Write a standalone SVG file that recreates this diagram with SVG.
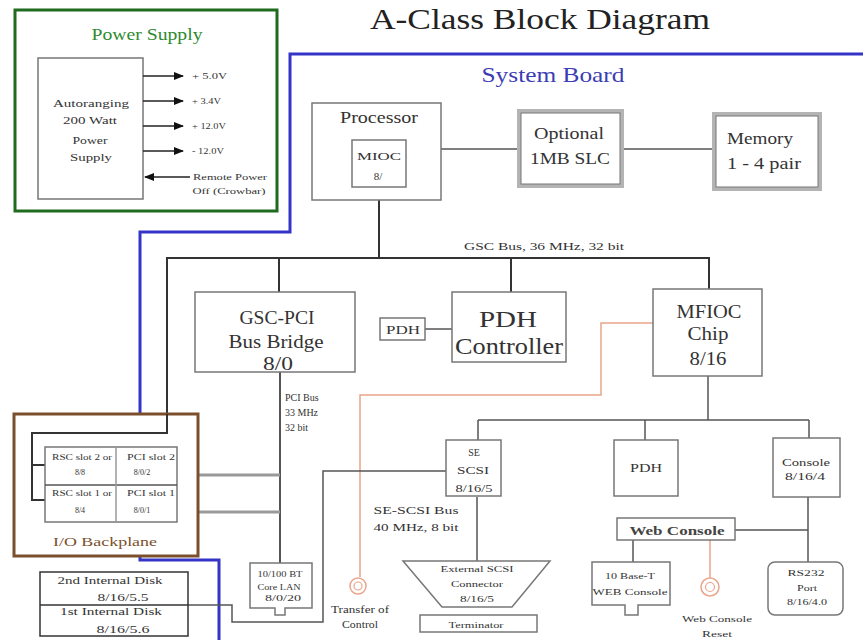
<svg xmlns="http://www.w3.org/2000/svg" width="863" height="640" viewBox="0 0 863 640" font-family="'Liberation Serif', 'DejaVu Serif', serif">
<defs>
<marker id="ah" viewBox="0 0 10 10" refX="9" refY="5" markerWidth="7" markerHeight="7" orient="auto"><path d="M0,1 L10,5 L0,9 z" fill="#111"/></marker>
</defs>
<style>
text{font-family:'Liberation Serif','DejaVu Serif',serif;fill:#333;text-anchor:middle}
.box{fill:#fff;stroke:#777;stroke-width:1.5}
.sh{fill:#fff;stroke:#b4b4b4;stroke-width:4}
.shi{fill:none;stroke:#777;stroke-width:1}
.bus{fill:none;stroke:#333;stroke-width:2}
.ln{fill:none;stroke:#555;stroke-width:1.5}
.gr{fill:none;stroke:#999;stroke-width:3}
.or{fill:none;stroke:#e9a58a;stroke-width:1.5}
.st{text-anchor:start}
.s8{font-size:8px}.s9{font-size:9px}.s10{font-size:10px}.s11{font-size:11px}.s13{font-size:13px}.s15{font-size:17px}.s17{font-size:18px}.s22{font-size:24px}
</style>
<rect width="863" height="640" fill="#fff"/>
<text x="540" y="29" style="font-size:30px;fill:#222" textLength="340" lengthAdjust="spacingAndGlyphs">A-Class Block Diagram</text>

<path d="M863,54 L290,54 L290,232 L140,232 L140,560 L219,560 L219,640" fill="none" stroke="#3434c8" stroke-width="3"/>
<text x="553" y="82" style="font-size:22px;fill:#3c3cb4" textLength="143" lengthAdjust="spacingAndGlyphs">System Board</text>

<g id="power-supply">
<rect x="15" y="10" width="262" height="201" fill="#fff" stroke="#1f6b1f" stroke-width="3"/>
<text x="147" y="40" class="s15" style="fill:#2e8b2e" textLength="111" lengthAdjust="spacingAndGlyphs">Power Supply</text>
<rect x="38" y="58" width="105" height="141" class="box"/>
<text x="91" y="107" class="s11" textLength="76" lengthAdjust="spacingAndGlyphs">Autoranging</text>
<text x="90" y="124" class="s11" textLength="54" lengthAdjust="spacingAndGlyphs">200 Watt</text>
<text x="90" y="144" class="s11" textLength="35" lengthAdjust="spacingAndGlyphs">Power</text>
<text x="91" y="161" class="s11" textLength="42" lengthAdjust="spacingAndGlyphs">Supply</text>
<g class="ln" style="stroke:#222" marker-end="url(#ah)">
<line x1="143" y1="76" x2="183" y2="76"/>
<line x1="143" y1="101" x2="183" y2="101"/>
<line x1="143" y1="126" x2="183" y2="126"/>
<line x1="143" y1="151" x2="183" y2="151"/>
<line x1="190" y1="177" x2="145" y2="177"/>
</g>
<text x="192" y="79" class="s9 st" textLength="35" lengthAdjust="spacingAndGlyphs">+ 5.0V</text>
<text x="192" y="104" class="s9 st" textLength="29" lengthAdjust="spacingAndGlyphs">+ 3.4V</text>
<text x="192" y="129" class="s9 st" textLength="34" lengthAdjust="spacingAndGlyphs">+ 12.0V</text>
<text x="192" y="154" class="s9 st" textLength="32" lengthAdjust="spacingAndGlyphs">- 12.0V</text>
<text x="230" y="180" class="s9" textLength="74" lengthAdjust="spacingAndGlyphs">Remote Power</text>
<text x="229" y="194" class="s9" textLength="73" lengthAdjust="spacingAndGlyphs">Off (Crowbar)</text>
</g>

<g id="connectors">
<line x1="441" y1="149" x2="517" y2="149" class="ln"/>
<line x1="621" y1="149" x2="712" y2="149" class="ln"/>
<line x1="379" y1="200" x2="379" y2="258" class="bus"/>
<line x1="166" y1="258" x2="710" y2="258" class="bus"/>
<line x1="279" y1="258" x2="279" y2="292" class="bus"/>
<line x1="511" y1="258" x2="511" y2="292" class="bus"/>
<line x1="709" y1="258" x2="709" y2="290" class="bus"/>
<line x1="167" y1="258" x2="167" y2="414" class="bus"/>
<line x1="425" y1="329" x2="452" y2="329" class="ln"/>
<line x1="280" y1="372" x2="280" y2="563" class="bus" style="stroke:#555"/>
<line x1="177" y1="475" x2="280" y2="475" class="gr"/>
<line x1="177" y1="512" x2="280" y2="512" class="gr"/>
<path d="M653,323 L601,323 L601,395 L360,395 L360,577" class="or"/>
<line x1="708" y1="376" x2="708" y2="420" class="ln"/>
<line x1="478" y1="420" x2="809" y2="420" class="ln"/>
<line x1="478" y1="420" x2="478" y2="440" class="ln"/>
<line x1="645" y1="420" x2="645" y2="440" class="ln"/>
<line x1="809" y1="420" x2="809" y2="438" class="ln"/>
<path d="M446,471 L323,471 L323,622 L232,622 L232,605 L188,605" class="ln"/>
<line x1="477" y1="497" x2="477" y2="561" class="ln"/>
<line x1="808" y1="497" x2="808" y2="562" class="ln"/>
<line x1="735" y1="530" x2="808" y2="530" class="ln"/>
<line x1="633" y1="540" x2="633" y2="562" class="ln"/>
<line x1="710" y1="540" x2="710" y2="578" class="or"/>
</g>

<g id="processor">
<rect x="312" y="103" width="129" height="97" class="box"/>
<text x="379" y="123" class="s15" textLength="78" lengthAdjust="spacingAndGlyphs">Processor</text>
</g>
<g id="mioc">
<rect x="352" y="140" width="54" height="47" class="box"/>
<text x="379" y="160" class="s11" textLength="44" lengthAdjust="spacingAndGlyphs">MIOC</text>
<text x="378" y="180" class="s11">8/</text>
</g>
<g id="slc">
<rect x="519" y="111" width="103" height="75" class="sh"/>
<rect x="521" y="113" width="99" height="71" class="shi"/>
<text x="569" y="139" class="s15" textLength="70" lengthAdjust="spacingAndGlyphs">Optional</text>
<text x="570" y="164" class="s15" textLength="80" lengthAdjust="spacingAndGlyphs">1MB SLC</text>
</g>
<g id="memory">
<rect x="714" y="114" width="106" height="75" class="sh"/>
<rect x="716" y="116" width="102" height="71" class="shi"/>
<text x="727" y="144" class="s15 st" textLength="66" lengthAdjust="spacingAndGlyphs">Memory</text>
<text x="727" y="169" class="s15 st" textLength="74" lengthAdjust="spacingAndGlyphs">1 - 4 pair</text>
</g>
<text x="544" y="250" class="s10" textLength="160" lengthAdjust="spacingAndGlyphs">GSC Bus, 36 MHz, 32 bit</text>

<g id="gsc-pci">
<rect x="195" y="292" width="160" height="80" class="box"/>
<text x="277" y="324" class="s17" textLength="75" lengthAdjust="spacingAndGlyphs">GSC-PCI</text>
<text x="276" y="348" class="s17" textLength="95" lengthAdjust="spacingAndGlyphs">Bus Bridge</text>
<text x="278" y="370" class="s17" textLength="30" lengthAdjust="spacingAndGlyphs">8/0</text>
</g>
<g id="pdh-small">
<rect x="380" y="318" width="45" height="22" class="box"/>
<text x="403" y="334" class="s13" textLength="34" lengthAdjust="spacingAndGlyphs">PDH</text>
</g>
<g id="pdh-controller">
<rect x="452" y="292" width="114" height="70" class="box"/>
<text x="508" y="327" class="s22" textLength="58" lengthAdjust="spacingAndGlyphs">PDH</text>
<text x="509" y="354" class="s22" textLength="108" lengthAdjust="spacingAndGlyphs">Controller</text>
</g>
<g id="mfioc">
<rect x="653" y="289" width="109" height="87" class="box"/>
<text x="709" y="318" class="s17" textLength="65" lengthAdjust="spacingAndGlyphs">MFIOC</text>
<text x="708" y="340" class="s17" textLength="41" lengthAdjust="spacingAndGlyphs">Chip</text>
<text x="708" y="365" class="s17" textLength="37" lengthAdjust="spacingAndGlyphs">8/16</text>
</g>
<text x="285" y="401" class="s10 st">PCI Bus</text>
<text x="285" y="416" class="s10 st">33 MHz</text>
<text x="285" y="431" class="s10 st">32 bit</text>

<g id="io-backplane">
<rect x="14" y="414" width="184" height="142" fill="#fff" stroke="#7b4f2c" stroke-width="3"/>
<path d="M167,414 L167,433 L32,433 L32,500 L45,500 M32,465 L45,465" class="bus"/>
<rect x="45" y="447" width="132" height="75" class="box"/>
<line x1="45" y1="485" x2="177" y2="485" class="ln"/>
<line x1="116" y1="447" x2="116" y2="522" class="ln" style="stroke:#999"/>
<text x="82" y="460" class="s8" textLength="60" lengthAdjust="spacingAndGlyphs">RSC slot 2  or</text>
<text x="80" y="475" class="s8">8/8</text>
<text x="151" y="460" class="s8" textLength="48" lengthAdjust="spacingAndGlyphs">PCI slot 2</text>
<text x="142" y="475" class="s8">8/0/2</text>
<text x="82" y="496" class="s8" textLength="60" lengthAdjust="spacingAndGlyphs">RSC slot 1  or</text>
<text x="80" y="513" class="s8">8/4</text>
<text x="151" y="496" class="s8" textLength="48" lengthAdjust="spacingAndGlyphs">PCI slot 1</text>
<text x="142" y="513" class="s8">8/0/1</text>
<text x="105" y="546" class="s13" style="fill:#7b4f2c" textLength="104" lengthAdjust="spacingAndGlyphs">I/O Backplane</text>
</g>

<g id="se-scsi">
<rect x="446" y="440" width="55" height="56" class="box"/>
<text x="474" y="456" class="s10">SE</text>
<text x="473" y="474" class="s10" textLength="32" lengthAdjust="spacingAndGlyphs">SCSI</text>
<text x="474" y="492" class="s10" textLength="37" lengthAdjust="spacingAndGlyphs">8/16/5</text>
</g>
<text x="416" y="514" class="s10" textLength="85" lengthAdjust="spacingAndGlyphs">SE-SCSI Bus</text>
<text x="416" y="531" class="s10" textLength="85" lengthAdjust="spacingAndGlyphs">40 MHz, 8 bit</text>
<g id="pdh-io">
<rect x="614" y="440" width="64" height="56" class="box"/>
<text x="646" y="472" class="s13" textLength="32" lengthAdjust="spacingAndGlyphs">PDH</text>
</g>
<g id="console">
<rect x="773" y="438" width="67" height="59" class="box"/>
<text x="806" y="466" class="s10" textLength="48" lengthAdjust="spacingAndGlyphs">Console</text>
<text x="805" y="480" class="s10" textLength="40" lengthAdjust="spacingAndGlyphs">8/16/4</text>
</g>

<g id="disks">
<rect x="40" y="572" width="148" height="64" fill="#fff" stroke="#333" stroke-width="1.5"/>
<line x1="40" y1="605" x2="188" y2="605" stroke="#333" stroke-width="1.5"/>
<text x="110" y="584" class="s11" textLength="105" lengthAdjust="spacingAndGlyphs">2nd Internal Disk</text>
<text x="123" y="601" class="s11" textLength="51" lengthAdjust="spacingAndGlyphs">8/16/5.5</text>
<text x="111" y="615" class="s11" textLength="102" lengthAdjust="spacingAndGlyphs">1st Internal Disk</text>
<text x="123" y="633" class="s11" textLength="53" lengthAdjust="spacingAndGlyphs">8/16/5.6</text>
</g>
<g id="lan">
<path d="M250,563 L312,563 L312,608 L285,608 L285,615 L275,615 L275,608 L250,608 Z" class="box"/>
<text x="280" y="577" class="s8" textLength="45" lengthAdjust="spacingAndGlyphs">10/100 BT</text>
<text x="279" y="590" class="s8" textLength="43" lengthAdjust="spacingAndGlyphs">Core LAN</text>
<text x="283" y="601" class="s8" textLength="36" lengthAdjust="spacingAndGlyphs">8/0/20</text>
</g>
<g id="toc">
<circle cx="358" cy="586" r="8" fill="#fff" stroke="#e9a58a" stroke-width="1.5"/>
<circle cx="358" cy="586" r="4" fill="none" stroke="#e9a58a" stroke-width="1.2"/>
<text x="360" y="613" class="s10" textLength="58" lengthAdjust="spacingAndGlyphs">Transfer of</text>
<text x="360" y="628" class="s10" textLength="36" lengthAdjust="spacingAndGlyphs">Control</text>
</g>
<g id="ext-scsi">
<path d="M403,561 L550,561 L512,607 L442,607 Z" class="box"/>
<text x="477" y="572" class="s9" textLength="73" lengthAdjust="spacingAndGlyphs">External SCSI</text>
<text x="477" y="587" class="s9" textLength="52" lengthAdjust="spacingAndGlyphs">Connector</text>
<text x="477" y="602" class="s9" textLength="34" lengthAdjust="spacingAndGlyphs">8/16/5</text>
</g>
<g id="terminator">
<rect x="420" y="615" width="117" height="17" class="box"/>
<text x="476" y="628" class="s9" textLength="55" lengthAdjust="spacingAndGlyphs">Terminator</text>
</g>
<g id="web-console">
<rect x="617" y="518" width="118" height="22" class="box"/>
<text x="677" y="535" class="s13" style="font-weight:bold;fill:#444" textLength="95" lengthAdjust="spacingAndGlyphs">Web Console</text>
</g>
<g id="base-t">
<path d="M592,562 L670,562 L670,605 L638,605 L638,615 L625,615 L625,605 L592,605 Z" class="box"/>
<text x="630" y="579" class="s9" textLength="50" lengthAdjust="spacingAndGlyphs">10 Base-T</text>
<text x="630" y="595" class="s9" textLength="75" lengthAdjust="spacingAndGlyphs">WEB Console</text>
</g>
<g id="web-reset">
<circle cx="710" cy="587" r="9" fill="#fff" stroke="#e9a58a" stroke-width="1.5"/>
<circle cx="710" cy="587" r="4.5" fill="none" stroke="#e9a58a" stroke-width="1.2"/>
<text x="717" y="622" class="s9" textLength="70" lengthAdjust="spacingAndGlyphs">Web Console</text>
<text x="717" y="637" class="s9" textLength="30" lengthAdjust="spacingAndGlyphs">Reset</text>
</g>
<g id="rs232">
<rect x="768" y="562" width="75" height="53" rx="7" class="box"/>
<text x="806" y="576" class="s9" textLength="37" lengthAdjust="spacingAndGlyphs">RS232</text>
<text x="807" y="591" class="s9" textLength="20" lengthAdjust="spacingAndGlyphs">Port</text>
<text x="807" y="605" class="s9" textLength="40" lengthAdjust="spacingAndGlyphs">8/16/4.0</text>
</g>
</svg>
